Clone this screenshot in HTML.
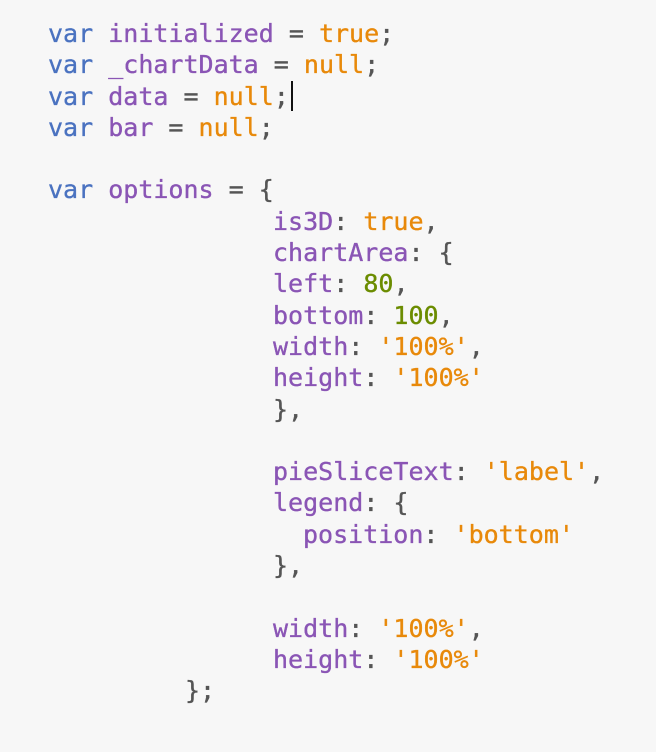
<!DOCTYPE html>
<html><head><meta charset="utf-8"><style>
html,body{margin:0;padding:0;background:#f7f7f7;width:656px;height:752px;overflow:hidden}
.c{position:absolute;left:0;top:18px;font-family:"DejaVu Sans Mono","Liberation Mono",monospace;font-size:25px;line-height:31.3px;color:#555;-webkit-text-stroke:0.35px currentColor}
.l{display:block;height:31.3px;white-space:pre}
.k{color:#4a72c0}.p{color:#8a55b5}.o{color:#e8890a}.g{color:#6b8c00}
.cur{display:inline-block;width:2px;height:30px;background:#111;vertical-align:-6px;margin-left:2px}
</style></head><body>
<div class="c"><span class="l" style="margin-left:48px"><span class="k">var</span> <span class="p">initialized</span> = <span class="o">true</span>;</span><span class="l" style="margin-left:48px"><span class="k">var</span> <span class="p">_chartData</span> = <span class="o">null</span>;</span><span class="l" style="margin-left:48px"><span class="k">var</span> <span class="p">data</span> = <span class="o">null</span>;<span class="cur"></span></span><span class="l" style="margin-left:48px"><span class="k">var</span> <span class="p">bar</span> = <span class="o">null</span>;</span><span class="l"></span><span class="l" style="margin-left:48px"><span class="k">var</span> <span class="p">options</span> = {</span><span class="l" style="margin-left:273px"><span class="p">is3D</span>: <span class="o">true</span>,</span><span class="l" style="margin-left:273px"><span class="p">chartArea</span>: {</span><span class="l" style="margin-left:273px"><span class="p">left</span>: <span class="g">80</span>,</span><span class="l" style="margin-left:273px"><span class="p">bottom</span>: <span class="g">100</span>,</span><span class="l" style="margin-left:273px"><span class="p">width</span>: <span class="o">'100%'</span>,</span><span class="l" style="margin-left:273px"><span class="p">height</span>: <span class="o">'100%'</span></span><span class="l" style="margin-left:273px">},</span><span class="l"></span><span class="l" style="margin-left:273px"><span class="p">pieSliceText</span>: <span class="o">'label'</span>,</span><span class="l" style="margin-left:273px"><span class="p">legend</span>: {</span><span class="l" style="margin-left:303px"><span class="p">position</span>: <span class="o">'bottom'</span></span><span class="l" style="margin-left:273px">},</span><span class="l"></span><span class="l" style="margin-left:273px"><span class="p">width</span>: <span class="o">'100%'</span>,</span><span class="l" style="margin-left:273px"><span class="p">height</span>: <span class="o">'100%'</span></span><span class="l" style="margin-left:185px">};</span></div>
</body></html>
